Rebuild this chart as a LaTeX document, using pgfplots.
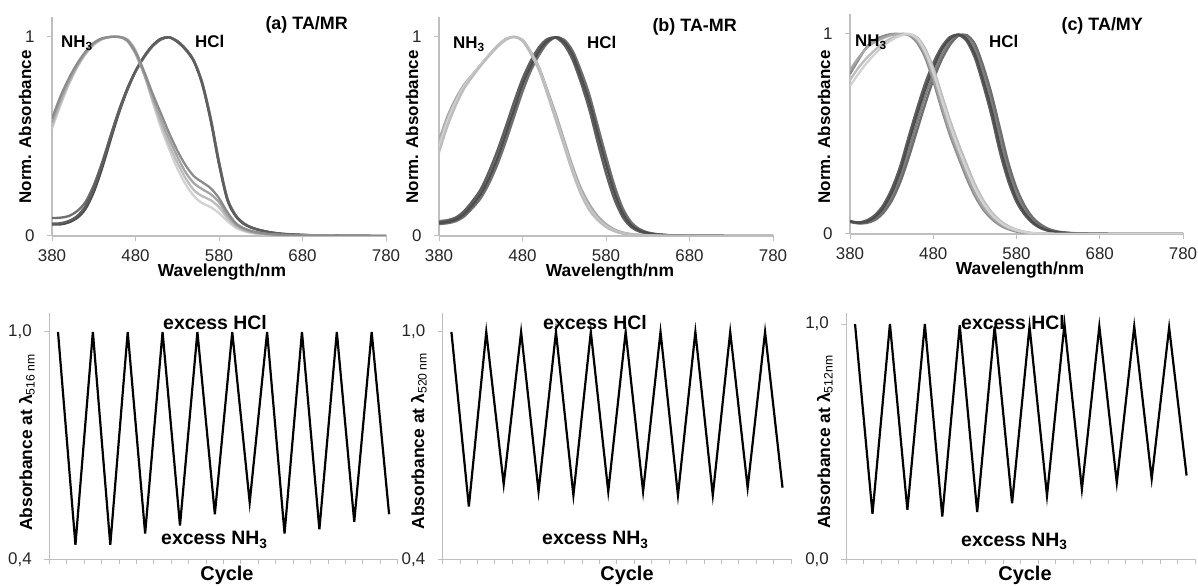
\documentclass[border=0pt]{standalone}
\usepackage{pgfplots}
\pgfplotsset{compat=1.18}
\usepackage{pgfplotstable}
\usepackage{fontspec}
\setmainfont{Liberation Sans}

\definecolor{axgray}{HTML}{BFBFBF}
\definecolor{dkA}{HTML}{4D4D4D}
\definecolor{dkB}{HTML}{5E5E5E}
\definecolor{dkC}{HTML}{6E6E6E}
\definecolor{dkD}{HTML}{808080}
\definecolor{ltA}{HTML}{8C8C8C}
\definecolor{ltB}{HTML}{A6A6A6}
\definecolor{ltC}{HTML}{BDBDBD}
\definecolor{ltD}{HTML}{D2D2D2}

\newcommand\lab[1][17]{\fontsize{#1}{#1}\selectfont\bfseries}

% spectra, panel (a): NH3 curves n1..n4, HCl curves h1..h3
\pgfplotstableread{
lam n1 n2 n3 n4 h1 h2 h3
380 0.59 0.57 0.55 0.54 0.062 0.090 0.058
390 0.70 0.68 0.665 0.655 0.064 0.092 0.058
400 0.79 0.775 0.765 0.76 0.075 0.100 0.068
410 0.865 0.855 0.85 0.845 0.100 0.125 0.090
420 0.925 0.92 0.915 0.912 0.150 0.170 0.135
430 0.97 0.965 0.962 0.96 0.240 0.255 0.220
440 0.993 0.99 0.99 0.988 0.360 0.370 0.340
450 1.0 1.0 1.0 0.999 0.500 0.500 0.480
460 1.0 1.0 1.0 1.0 0.630 0.625 0.615
470 0.985 0.98 0.985 0.99 0.740 0.735 0.730
480 0.925 0.915 0.93 0.935 0.830 0.825 0.825
490 0.83 0.815 0.82 0.82 0.900 0.895 0.900
500 0.72 0.70 0.69 0.68 0.955 0.950 0.955
510 0.62 0.59 0.57 0.55 0.990 0.985 0.990
520 0.52 0.49 0.46 0.44 0.998 0.998 0.998
530 0.43 0.40 0.37 0.34 0.975 0.980 0.978
540 0.355 0.32 0.29 0.26 0.935 0.940 0.940
550 0.30 0.265 0.23 0.20 0.875 0.880 0.880
560 0.27 0.235 0.20 0.165 0.760 0.770 0.765
570 0.24 0.21 0.18 0.145 0.580 0.595 0.585
580 0.19 0.17 0.145 0.115 0.360 0.375 0.365
590 0.12 0.105 0.09 0.075 0.180 0.190 0.185
600 0.065 0.058 0.05 0.042 0.100 0.105 0.100
610 0.038 0.033 0.028 0.024 0.060 0.063 0.060
620 0.024 0.02 0.017 0.014 0.040 0.042 0.040
630 0.016 0.013 0.01 0.009 0.028 0.029 0.028
640 0.01 0.008 0.007 0.006 0.019 0.020 0.019
650 0.007 0.006 0.005 0.004 0.013 0.014 0.013
660 0.005 0.004 0.003 0.003 0.009 0.010 0.009
680 0.003 0.002 0.002 0.002 0.005 0.006 0.005
700 0.002 0.001 0.001 0.001 0.003 0.003 0.003
740 0.001 0 0 0 0.001 0.001 0.001
780 0 0 0 0 0 0 0
}\taba

% panel (b)
\pgfplotstableread{
lam n1 n2 n3 n4 h1 h2 h3 h4
380 0.48 0.42 0.46 0.44 0.065 0.070 0.060 0.075
390 0.60 0.55 0.585 0.57 0.070 0.077 0.064 0.080
400 0.69 0.655 0.68 0.67 0.082 0.092 0.074 0.092
410 0.76 0.74 0.755 0.75 0.110 0.125 0.098 0.120
420 0.81 0.80 0.81 0.805 0.155 0.175 0.140 0.165
430 0.86 0.855 0.86 0.858 0.210 0.235 0.190 0.220
440 0.91 0.905 0.91 0.908 0.290 0.325 0.265 0.300
450 0.955 0.95 0.955 0.952 0.390 0.430 0.360 0.400
460 0.99 0.985 0.99 0.988 0.510 0.550 0.475 0.520
470 1.0 1.0 1.0 1.0 0.635 0.675 0.600 0.640
480 0.985 0.98 0.983 0.982 0.760 0.790 0.725 0.760
490 0.925 0.915 0.92 0.918 0.855 0.880 0.830 0.855
500 0.845 0.83 0.84 0.835 0.930 0.950 0.910 0.930
510 0.73 0.71 0.72 0.715 0.980 0.990 0.970 0.980
520 0.61 0.58 0.595 0.585 0.998 0.995 0.998 0.998
530 0.48 0.45 0.465 0.455 0.975 0.960 0.985 0.975
540 0.35 0.32 0.335 0.325 0.910 0.885 0.930 0.910
550 0.24 0.21 0.225 0.215 0.800 0.770 0.830 0.800
560 0.16 0.13 0.145 0.135 0.675 0.635 0.710 0.675
570 0.10 0.08 0.09 0.083 0.515 0.470 0.555 0.515
580 0.06 0.045 0.052 0.048 0.360 0.315 0.400 0.360
590 0.033 0.024 0.028 0.026 0.220 0.185 0.255 0.220
600 0.018 0.012 0.015 0.013 0.115 0.095 0.140 0.115
610 0.010 0.007 0.008 0.007 0.055 0.045 0.070 0.055
620 0.006 0.004 0.005 0.004 0.028 0.022 0.035 0.028
630 0.004 0.002 0.003 0.002 0.015 0.012 0.018 0.015
640 0.002 0.001 0.001 0.001 0.008 0.006 0.010 0.008
650 0.001 0 0.001 0 0.005 0.004 0.006 0.005
660 0.001 0 0 0 0.003 0.002 0.003 0.003
680 0 0 0 0 0.001 0.001 0.001 0.001
700 0 0 0 0 0.001 0.001 0.001 0.001
740 0 0 0 0 0 0 0 0
780 0 0 0 0 0 0 0 0
}\tabb

% panel (c)
\pgfplotstableread{
lam n1 n2 n3 n4 h1 h2 h3 h4
380 0.82 0.77 0.74 0.80 0.063 0.060 0.062 0.065
390 0.88 0.83 0.80 0.87 0.056 0.053 0.055 0.058
400 0.93 0.88 0.855 0.935 0.062 0.055 0.058 0.068
410 0.96 0.92 0.90 0.97 0.085 0.070 0.078 0.095
420 0.98 0.955 0.94 0.99 0.130 0.105 0.115 0.145
430 0.995 0.98 0.97 1.0 0.205 0.165 0.185 0.225
440 1.0 0.995 0.99 1.0 0.310 0.255 0.280 0.335
450 0.998 1.0 1.0 0.995 0.450 0.375 0.410 0.480
460 0.97 0.985 0.98 0.96 0.590 0.510 0.550 0.620
470 0.90 0.93 0.915 0.885 0.720 0.645 0.685 0.750
480 0.785 0.83 0.81 0.765 0.830 0.770 0.800 0.855
490 0.645 0.70 0.675 0.625 0.920 0.870 0.895 0.935
500 0.515 0.57 0.545 0.495 0.975 0.945 0.960 0.985
510 0.405 0.455 0.43 0.385 0.998 0.990 0.995 0.995
520 0.30 0.35 0.325 0.28 0.975 0.995 0.985 0.965
530 0.205 0.25 0.23 0.19 0.900 0.950 0.925 0.880
540 0.135 0.17 0.155 0.122 0.770 0.840 0.805 0.745
550 0.085 0.11 0.098 0.076 0.620 0.700 0.660 0.590
560 0.05 0.068 0.06 0.044 0.440 0.530 0.485 0.410
570 0.028 0.04 0.034 0.024 0.290 0.360 0.325 0.265
580 0.015 0.022 0.018 0.012 0.175 0.230 0.200 0.160
590 0.006 0.011 0.009 0.005 0.105 0.140 0.120 0.095
600 0.003 0.005 0.004 0.002 0.058 0.080 0.068 0.052
610 0.002 0.003 0.002 0.001 0.030 0.045 0.037 0.027
620 0.001 0.001 0.001 0 0.015 0.023 0.019 0.014
630 0 0 0 0 0.009 0.012 0.010 0.008
640 0 0 0 0 0.005 0.007 0.006 0.004
650 0 0 0 0 0.003 0.004 0.003 0.002
660 0 0 0 0 0.002 0.002 0.002 0.001
680 0 0 0 0 0.001 0.001 0.001 0.001
700 0 0 0 0 0 0 0 0
740 0 0 0 0 0 0 0 0
780 0 0 0 0 0 0 0 0
}\tabc

% switching cycles: absorbance at the HCl maximum
\pgfplotstableread{
cyc a b c
1 1.0 1.0 1.0
2 0.438 0.539 0.193
3 1.0 1.0 1.0
4 0.438 0.598 0.210
5 1.0 1.0 1.0
6 0.468 0.579 0.182
7 1.0 1.0 0.995
8 0.489 0.569 0.201
9 1.0 1.0 0.99
10 0.519 0.579 0.238
11 1.0 1.0 0.99
12 0.550 0.579 0.270
13 1.0 1.0 1.0
14 0.468 0.569 0.298
15 1.0 1.0 0.99
16 0.479 0.569 0.326
17 1.0 1.0 0.99
18 0.499 0.589 0.342
19 1.0 1.0 0.985
20 0.519 0.589 0.356
}\tabcyc

\pgfplotsset{
  base/.style={
    scale only axis,
    axis x line*=bottom, axis y line*=left,
    axis line style={axgray, line width=1.2bp},
    tick style={axgray, line width=1bp},
    tick align=outside,
    major tick length=5bp,
    tick label style={font=\fontsize{17}{17}\selectfont, text=black!85},
    yticklabel style={xshift=-9bp},
  },
  spec/.style={base, width=334bp, height=219bp,
    xmin=380, xmax=780, ymin=0, ymax=1.1,
    xtick={380,480,580,680,780}, xticklabels={380,480,580,680,780},
    xticklabel style={yshift=-5bp},
    ytick={0,1}, yticklabels={0,1},
  },
  cyc/.style={base, width=348.5bp, height=246.3bp,
    xmin=0.5, xmax=20.5, xtick={0.5,1.5,...,20.5}, xticklabels={,,},
  },
  sp/.style={smooth, no marks, line width=2.3bp, color=#1},
  zz/.style={sharp plot, no marks, line width=2.2bp, black},
}

\begin{document}
\begin{tikzpicture}[x=1bp, y=1bp]
\path[use as bounding box] (0,0) rectangle (1198,586);

% ---- top row: normalised spectra ----
\begin{axis}[spec, at={(52bp,350bp)}, anchor=south west]
  \addplot[sp=dkA] table[x=lam, y=h3] {\taba};
  \addplot[sp=dkC] table[x=lam, y=h2] {\taba};
  \addplot[sp=dkB] table[x=lam, y=h1] {\taba};
  \addplot[sp=ltD] table[x=lam, y=n4] {\taba};
  \addplot[sp=ltC] table[x=lam, y=n3] {\taba};
  \addplot[sp=ltB] table[x=lam, y=n2] {\taba};
  \addplot[sp=ltA] table[x=lam, y=n1] {\taba};
\end{axis}

\begin{axis}[spec, at={(439bp,350bp)}, anchor=south west]
  \addplot[sp=dkD] table[x=lam, y=h4] {\tabb};
  \addplot[sp=dkC] table[x=lam, y=h3] {\tabb};
  \addplot[sp=dkB] table[x=lam, y=h2] {\tabb};
  \addplot[sp=dkA] table[x=lam, y=h1] {\tabb};
  \addplot[sp=ltB] table[x=lam, y=n1] {\tabb};
  \addplot[sp=ltC] table[x=lam, y=n3] {\tabb};
  \addplot[sp=ltD] table[x=lam, y=n4] {\tabb};
  \addplot[sp=ltC] table[x=lam, y=n2] {\tabb};
\end{axis}

\begin{axis}[spec, width=333bp, height=220bp, at={(850bp,352bp)}, anchor=south west]
  \addplot[sp=dkD] table[x=lam, y=h3] {\tabc};
  \addplot[sp=dkC] table[x=lam, y=h2] {\tabc};
  \addplot[sp=dkB] table[x=lam, y=h4] {\tabc};
  \addplot[sp=dkA] table[x=lam, y=h1] {\tabc};
  \addplot[sp=ltA] table[x=lam, y=n4] {\tabc};
  \addplot[sp=ltB] table[x=lam, y=n1] {\tabc};
  \addplot[sp=ltC] table[x=lam, y=n2] {\tabc};
  \addplot[sp=ltD] table[x=lam, y=n3] {\tabc};
\end{axis}

\node[anchor=base west] at (262,556) {\lab[18](a) TA/MR};
\node[anchor=base west] at (649,554) {\lab[18](b) TA-MR};
\node[anchor=base west] at (1058,555) {\lab[18](c) TA/MY};
\node[anchor=base west, inner sep=0pt] at (61,538) {\lab NH\textsubscript{3}};
\node[anchor=base west, inner sep=0pt] at (453,537) {\lab NH\textsubscript{3}};
\node[anchor=base west, inner sep=0pt] at (855,539) {\lab NH\textsubscript{3}};
\node[anchor=base west, inner sep=0pt] at (195,538) {\lab HCl};
\node[anchor=base west, inner sep=0pt] at (587,537) {\lab HCl};
\node[anchor=base west, inner sep=0pt] at (989,538) {\lab HCl};
\foreach \xx/\yy in {222/309, 610/309, 1020/311}
  \node[anchor=base, inner sep=0pt] at (\xx,\yy) {\lab[17.5]Wavelength/nm};
\foreach \xx in {31, 418, 830}
  \node[anchor=base, rotate=90, inner sep=0pt] at (\xx,459) {\lab Norm. Absorbance};

% ---- bottom row: switching cycles ----
\node[anchor=base west, inner sep=0pt] at (961,256) {\lab[19.5]excess HCl};

\begin{axis}[cyc, at={(49.3bp,26.7bp)}, anchor=south west,
    ymin=0.4, ymax=1.05, ytick={0.4,1.0}, yticklabels={{0,4},{1,0}}]
  \addplot[zz] table[x=cyc, y=a] {\tabcyc};
\end{axis}

\begin{axis}[cyc, at={(442.7bp,26.7bp)}, anchor=south west,
    ymin=0.4, ymax=1.05, ytick={0.4,1.0}, yticklabels={{0,4},{1,0}}]
  \addplot[zz] table[x=cyc, y=b] {\tabcyc};
\end{axis}

\begin{axis}[cyc, width=349bp, at={(846.3bp,26.7bp)}, anchor=south west,
    ymin=0, ymax=1.047, ytick={0,1.0}, yticklabels={{0,0},{1,0}}]
  \addplot[zz] table[x=cyc, y=c] {\tabcyc};
\end{axis}

\node[anchor=base west, inner sep=0pt] at (163,256) {\lab[19.5]excess HCl};
\node[anchor=base west, inner sep=0pt] at (543,256) {\lab[19.5]excess HCl};
\node[anchor=base west, inner sep=0pt] at (161,41) {\lab[19.5]excess NH\textsubscript{3}};
\node[anchor=base west, inner sep=0pt] at (542,41) {\lab[19.5]excess NH\textsubscript{3}};
\node[anchor=base west, inner sep=0pt] at (961,39.5) {\lab[19.5]excess NH\textsubscript{3}};
\foreach \xx in {227, 627, 1025}
  \node[anchor=base, inner sep=0pt] at (\xx,5) {\lab[20]Cycle};
\node[anchor=base, rotate=90, inner sep=0pt] at (32,143.5)
  {\lab[17.5]Absorbance at λ\textsubscript{\mdseries 516 nm}};
\node[anchor=base, rotate=90, inner sep=0pt] at (424,145)
  {\lab[17.5]Absorbance at λ\textsubscript{\mdseries 520 nm}};
\node[anchor=base, rotate=90, inner sep=0pt] at (830,144)
  {\lab[17.5]Absorbance at λ\textsubscript{\mdseries 512nm}};
\end{tikzpicture}
\end{document}
